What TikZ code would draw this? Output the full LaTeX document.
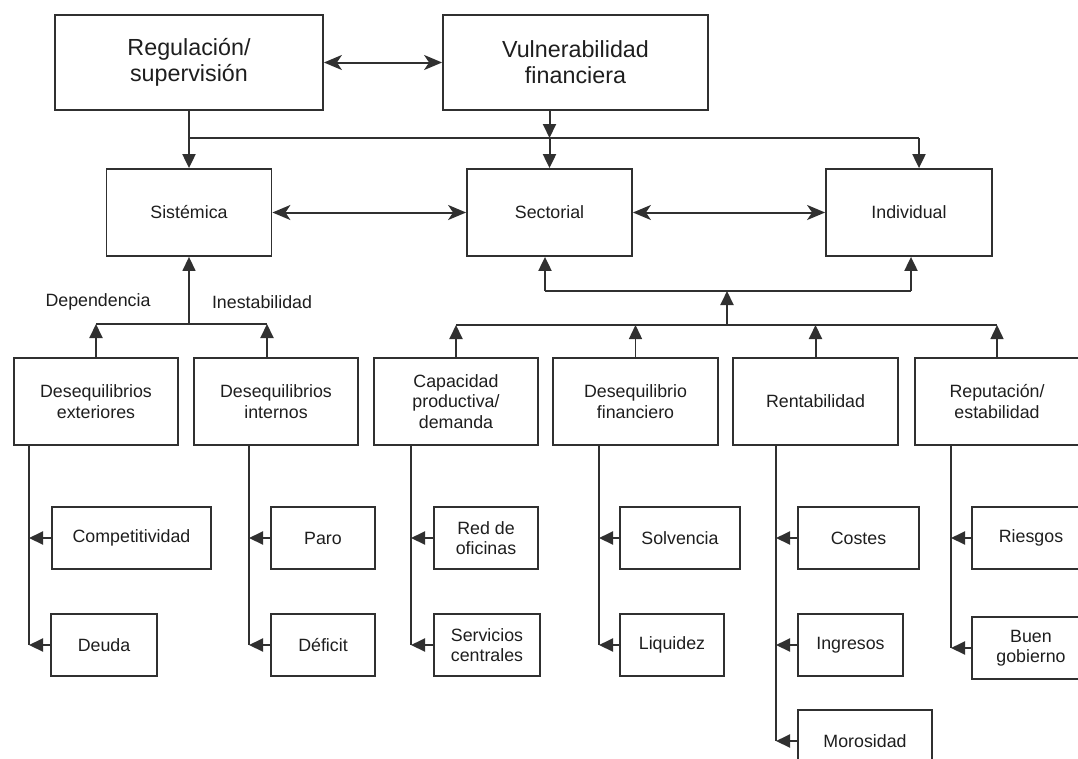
\documentclass[tikz,border=0pt]{standalone}
\usepackage{fontspec}
\setmainfont{Liberation Sans}
\usetikzlibrary{arrows.meta,calc}
\definecolor{ink}{HTML}{303030}
\definecolor{txt}{HTML}{1e1e1e}
\tikzset{
 box/.style={draw=ink, line width=1.8pt, rectangle, align=center, inner sep=2pt, text=txt, font=\fontsize{17.8}{20.5}\selectfont, minimum height=87pt},
 topbox/.style={box, font=\fontsize{23.3}{26}\selectfont, minimum height=95pt},
 leaf/.style={box, minimum height=62pt},
 conn/.style={draw=ink, line width=2pt},
 tri/.style={conn, -{Triangle[length=14pt,width=13pt]}},
 dbl/.style={conn, {Stealth[length=18pt,width=15pt,inset=5pt]}-{Stealth[length=18pt,width=15pt,inset=5pt]}},
 lbl/.style={text=txt, font=\fontsize{17.8}{20.5}\selectfont, inner sep=0pt}
}
\begin{document}
\begin{tikzpicture}[x=1pt,y=-1pt]
\useasboundingbox (0,0) rectangle (1078,758);
% top row
\node[topbox, minimum width=268pt] (reg) at (189,62.5) {Regulación/\\supervisión};
\node[topbox, minimum width=265pt] (vul) at (575.5,62.5) {Vulnerabilidad\\financiera};
% middle row
\node[box, minimum width=165pt] (sis) at (189,212.5) {Sistémica};
\node[box, minimum width=165pt] (sec) at (549.5,212.5) {Sectorial};
\node[box, minimum width=166pt] (ind) at (909,212.5) {Individual};
% bottom row
\node[box, minimum width=164pt] (ext) at (96,401.5) {Desequilibrios\\exteriores};
\node[box, minimum width=164pt] (int) at (276,401.5) {Desequilibrios\\internos};
\node[box, minimum width=164pt] (cap) at (456,401.5) {Capacidad\\productiva/\\demanda};
\node[box, minimum width=165pt] (dfin) at (635.5,401.5) {Desequilibrio\\financiero};
\node[box, minimum width=165pt] (rent) at (815.5,401.5) {Rentabilidad};
\node[box, minimum width=164pt] (rep) at (997,401.5) {Reputación/\\estabilidad};
% leaves
\node[leaf, minimum width=159pt] (comp) at (131.5,538) {Competitividad};
\node[leaf, minimum width=106pt] (deuda) at (104,645) {Deuda};
\node[leaf, minimum width=104pt] (paro) at (323,538) {Paro};
\node[leaf, minimum width=104pt] (defi) at (323,645) {Déficit};
\node[leaf, minimum width=104pt] (red) at (486,538) {Red de\\oficinas};
\node[leaf, minimum width=106pt] (serv) at (487,645) {Servicios\\centrales};
\node[leaf, minimum width=120pt] (solv) at (680,538) {Solvencia};
\node[leaf, minimum width=104pt] (liq) at (672,645) {Liquidez};
\node[leaf, minimum width=121pt] (cost) at (858.5,538) {Costes};
\node[leaf, minimum width=105pt] (ingr) at (850.5,645) {Ingresos};
\node[leaf, minimum width=134pt] (moro) at (865,741) {Morosidad};
\node[leaf, minimum width=118pt] (ries) at (1031,538) {Riesgos};
\node[leaf, minimum width=118pt] (buen) at (1031,648) {Buen\\gobierno};
% labels
\node[lbl] (dep) at (98,302) {Dependencia};
\node[lbl] (ine) at (262,302) {Inestabilidad};
% coordinates
\coordinate (j1) at (189,138);
\coordinate (j2) at (549.5,138);
\coordinate (j3) at (727,291);
\coordinate (j4) at (727,325);
\coordinate (j5) at (189,324);
\coordinate (b1) at (545,291);
\coordinate (b2) at (911,291);
\coordinate (tExt) at (29,0);
\coordinate (tInt) at (249,0);
\coordinate (tCap) at (411,0);
\coordinate (tDf) at (599,0);
\coordinate (tRen) at (776,0);
\coordinate (tRep) at (951,0);
% top connectors
\draw[dbl] (reg.east) -- (vul.west);
\draw[tri] (reg.south) -- (sis.north);
\draw[conn] (j1) -- (919,138);
\draw[tri] (919,138) -- ([xshift=10pt]ind.north);
\draw[tri] (vul.south -| j2) -- (j2);
\draw[tri] (j2) -- (sec.north);
\draw[dbl] (sis.east) -- (sec.west);
\draw[dbl] (sec.east) -- (ind.west);
% sectorial / individual feed
\draw[tri] (b1) -- (b1 |- sec.south);
\draw[tri] (b2) -- (b2 |- ind.south);
\draw[conn] (b1) -- (b2);
\draw[tri] (j4) -- (j3);
\draw[conn] (cap.north |- j4) -- (rep.north |- j4);
\draw[tri] (cap.north) -- (cap.north |- j4);
\draw[tri, line width=1.4pt] (dfin.north) -- (dfin.north |- j4);
\draw[tri] (rent.north) -- (rent.north |- j4);
\draw[tri, line width=1.4pt] (rep.north) -- (rep.north |- j4);
% sistemica feed
\draw[tri, line width=1.4pt] (j5) -- (sis.south);
\draw[conn] (ext.north |- j5) -- ([xshift=-9pt]int.north |- j5);
\draw[tri] (ext.north) -- (ext.north |- j5);
\draw[tri] ([xshift=-9pt]int.north) -- ([xshift=-9pt]int.north |- j5);
% trunks
\draw[conn] (ext.south -| tExt) -- (deuda.west -| tExt);
\draw[tri] (comp.west) -- (comp.west -| tExt);
\draw[tri] (deuda.west) -- (deuda.west -| tExt);
\draw[conn, line width=1.1pt] (int.south -| tInt) -- (defi.west -| tInt);
\draw[tri] (paro.west) -- (paro.west -| tInt);
\draw[tri] (defi.west) -- (defi.west -| tInt);
\draw[conn, line width=2.6pt] (cap.south -| tCap) -- (serv.west -| tCap);
\draw[tri] (red.west) -- (red.west -| tCap);
\draw[tri] (serv.west) -- (serv.west -| tCap);
\draw[conn] (dfin.south -| tDf) -- (liq.west -| tDf);
\draw[tri] (solv.west) -- (solv.west -| tDf);
\draw[tri] (liq.west) -- (liq.west -| tDf);
\draw[conn] (rent.south -| tRen) -- (moro.west -| tRen);
\draw[tri] (cost.west) -- (cost.west -| tRen);
\draw[tri] (ingr.west) -- (ingr.west -| tRen);
\draw[tri] (moro.west) -- (moro.west -| tRen);
\draw[conn] (rep.south -| tRep) -- (buen.west -| tRep);
\draw[tri] (ries.west) -- (ries.west -| tRep);
\draw[tri] (buen.west) -- (buen.west -| tRep);
\end{tikzpicture}
\end{document}
